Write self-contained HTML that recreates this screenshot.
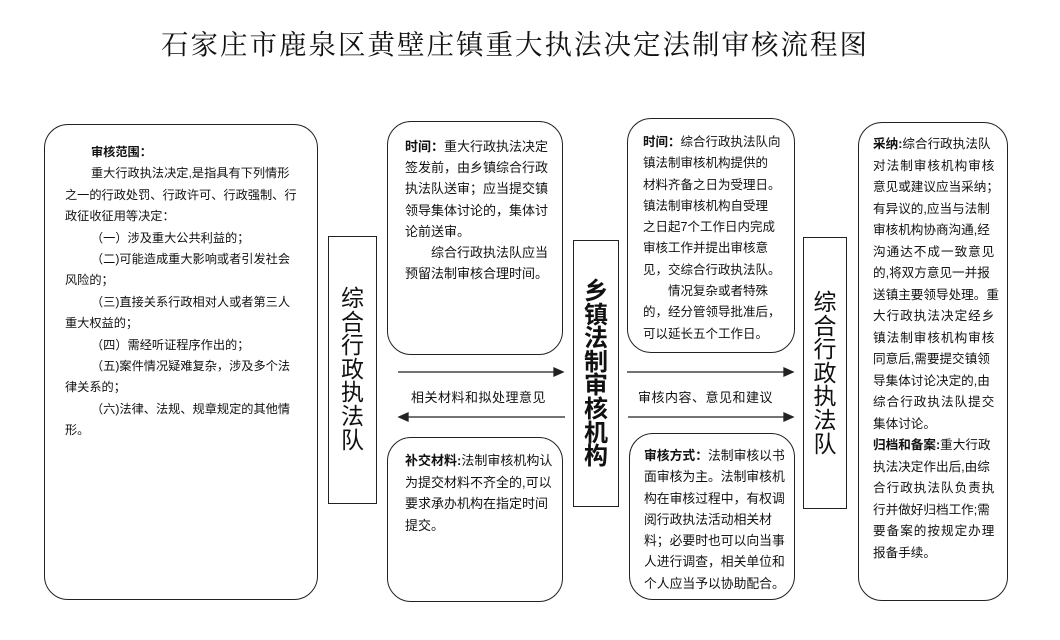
<!DOCTYPE html>
<html><head><meta charset="utf-8">
<style>
*{margin:0;padding:0;box-sizing:border-box}
body{width:1060px;height:640px;background:#fff;position:relative;overflow:hidden;font-family:"Liberation Sans","Noto Sans CJK SC",sans-serif;color:#111}
.a{position:absolute}
.rb{position:absolute;border:1.5px solid #222;border-radius:24px;background:#fff}
.sb{position:absolute;border:1.5px solid #222;background:#fff}
.t{position:absolute;white-space:nowrap}
.t div{height:var(--lh)}
b{font-weight:bold}
.v{position:absolute;text-align:center}
</style></head><body>
<div class="t" style="left:0;width:1030px;top:22px;text-align:center;font-family:'Liberation Serif','Noto Serif CJK SC',serif;font-size:27.5px;letter-spacing:2px">石家庄市鹿泉区黄壁庄镇重大执法决定法制审核流程图</div>

<div class="rb" style="left:44px;top:124px;width:274px;height:476px"></div>
<div class="t" style="left:65px;top:142px;font-size:12.2px;--lh:21.4px;line-height:21.4px">
<div style="padding-left:26px"><b>审核范围：</b></div>
<div style="padding-left:26px">重大行政执法决定,是指具有下列情形</div>
<div>之一的行政处罚、行政许可、行政强制、行</div>
<div>政征收征用等决定：</div>
<div style="padding-left:26px">（一）涉及重大公共利益的；</div>
<div style="padding-left:26px">（二)可能造成重大影响或者引发社会</div>
<div>风险的；</div>
<div style="padding-left:26px">（三)直接关系行政相对人或者第三人</div>
<div>重大权益的；</div>
<div style="padding-left:26px">（四）需经听证程序作出的；</div>
<div style="padding-left:26px">（五)案件情况疑难复杂，涉及多个法</div>
<div>律关系的；</div>
<div style="padding-left:26px">（六)法律、法规、规章规定的其他情</div>
<div>形。</div>
</div>

<div class="sb" style="left:328px;top:236px;width:49px;height:268px"></div>
<div class="v" style="left:328px;width:49px;top:287px;font-size:23px;line-height:23.6px">综<br>合<br>行<br>政<br>执<br>法<br>队</div>

<div class="rb" style="left:387px;top:121px;width:176px;height:234px"></div>
<div class="t" style="left:405px;top:136px;font-size:13px;--lh:21.2px;line-height:21.2px">
<div><b>时间：</b>重大行政执法决定</div>
<div>签发前，由乡镇综合行政</div>
<div>执法队送审；应当提交镇</div>
<div>领导集体讨论的，集体讨</div>
<div>论前送审。</div>
<div style="padding-left:26px">综合行政执法队应当</div>
<div>预留法制审核合理时间。</div>
</div>

<div class="sb" style="left:573px;top:240px;width:46px;height:267px"></div>
<div class="v" style="left:573px;width:46px;top:280px;font-size:24px;font-weight:bold;line-height:23.6px">乡<br>镇<br>法<br>制<br>审<br>核<br>机<br>构</div>

<div class="rb" style="left:627px;top:118px;width:168px;height:235px"></div>
<div class="t" style="left:643px;top:132px;font-size:12.5px;--lh:21.3px;line-height:21.3px">
<div><b>时间：</b>综合行政执法队向</div>
<div>镇法制审核机构提供的</div>
<div>材料齐备之日为受理日。</div>
<div>镇法制审核机构自受理</div>
<div>之日起7个工作日内完成</div>
<div>审核工作并提出审核意</div>
<div>见，交综合行政执法队。</div>
<div style="padding-left:25px">情况复杂或者特殊</div>
<div>的，经分管领导批准后，</div>
<div>可以延长五个工作日。</div>
</div>

<svg class="a" style="left:0;top:0" width="1060" height="640">
<g stroke="#222" stroke-width="1.3" fill="#222">
<line x1="398" y1="372" x2="556" y2="372"/><polygon points="563,372 554,368 554,376"/>
<line x1="406" y1="417" x2="565" y2="417"/><polygon points="399,417 408,413 408,421"/>
<line x1="627" y1="372" x2="786" y2="372"/><polygon points="793,372 784,368 784,376"/>
<line x1="628" y1="417" x2="786" y2="417"/><polygon points="793,417 784,413 784,421"/>
</g></svg>
<div class="t" style="left:411px;top:387px;font-size:13px;letter-spacing:0.5px">相关材料和拟处理意见</div>
<div class="t" style="left:638px;top:387px;font-size:13px;letter-spacing:0.5px">审核内容、意见和建议</div>

<div class="rb" style="left:387px;top:437px;width:176px;height:165px"></div>
<div class="t" style="left:405px;top:450px;font-size:13px;--lh:21.7px;line-height:21.7px">
<div><b>补交材料:</b>法制审核机构认</div>
<div>为提交材料不齐全的,可以</div>
<div>要求承办机构在指定时间</div>
<div>提交。</div>
</div>

<div class="rb" style="left:629px;top:433px;width:166px;height:167px"></div>
<div class="t" style="left:644px;top:445px;font-size:12.8px;--lh:21.3px;line-height:21.3px">
<div><b>审核方式：</b>法制审核以书</div>
<div>面审核为主。法制审核机</div>
<div>构在审核过程中，有权调</div>
<div>阅行政执法活动相关材</div>
<div>料；必要时也可以向当事</div>
<div>人进行调查，相关单位和</div>
<div>个人应当予以协助配合。</div>
</div>

<div class="sb" style="left:803px;top:237px;width:44px;height:272px"></div>
<div class="v" style="left:803px;width:44px;top:291px;font-size:23px;line-height:23.6px">综<br>合<br>行<br>政<br>执<br>法<br>队</div>

<div class="rb" style="left:858px;top:122px;width:150px;height:479px"></div>
<div class="t" style="left:873px;top:134px;font-size:12.6px;--lh:21.5px;line-height:21.5px">
<div><b>采纳:</b>综合行政执法队</div>
<div style="letter-spacing:1px">对法制审核机构审核</div>
<div>意见或建议应当采纳；</div>
<div>有异议的,应当与法制</div>
<div>审核机构协商沟通,经</div>
<div style="letter-spacing:1px">沟通达不成一致意见</div>
<div>的,将双方意见一并报</div>
<div>送镇主要领导处理。重</div>
<div style="letter-spacing:1px">大行政执法决定经乡</div>
<div style="letter-spacing:1px">镇法制审核机构审核</div>
<div>同意后,需要提交镇领</div>
<div>导集体讨论决定的,由</div>
<div style="letter-spacing:1px">综合行政执法队提交</div>
<div>集体讨论。</div>
<div><b>归档和备案:</b>重大行政</div>
<div>执法决定作出后,由综</div>
<div style="letter-spacing:1px">合行政执法队负责执</div>
<div>行并做好归档工作;需</div>
<div style="letter-spacing:1px">要备案的按规定办理</div>
<div>报备手续。</div>
</div>
</body></html>
